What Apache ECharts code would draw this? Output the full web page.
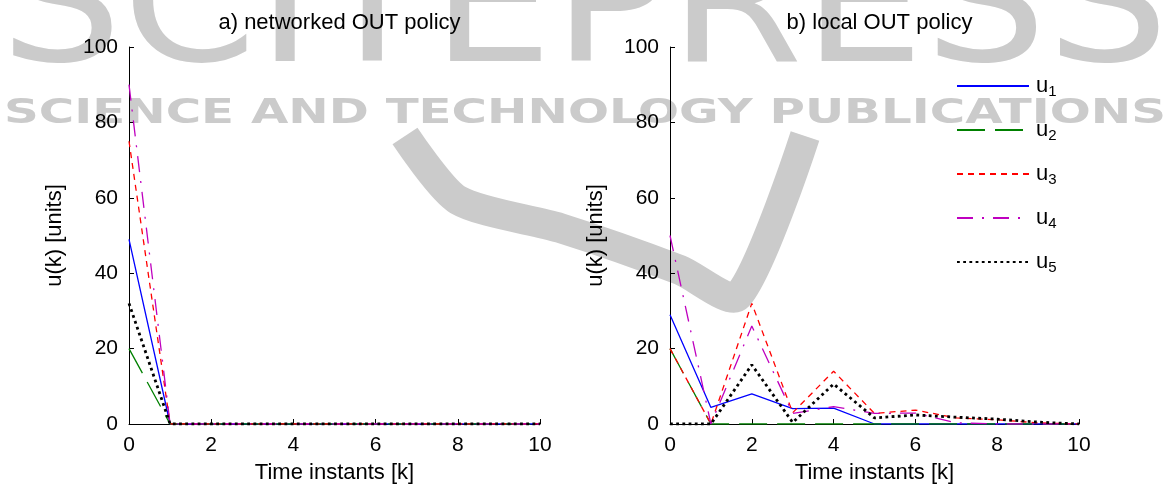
<!DOCTYPE html>
<html><head><meta charset="utf-8">
<script src="https://cdn.jsdelivr.net/npm/echarts@6/dist/echarts.min.js"></script>
<style>html,body{margin:0;padding:0;background:#fff}#c{width:1169px;height:492px}</style>
</head><body><div id="c"></div><script>
// ---- data ----
const kValues = [0,1,2,3,4,5,6,7,8,9,10];
const seriesNames = ['u1','u2','u3','u4','u5'];
const xTicks = [0,2,4,6,8,10];
const yTicks = [0,20,40,60,80,100];
// a) networked OUT policy
const netU1 = [49,0,0,0,0,0,0,0,0,0,0];
const netU2 = [20,0,0,0,0,0,0,0,0,0,0];
const netU3 = [75,0,0,0,0,0,0,0,0,0,0];
const netU4 = [90,0,0,0,0,0,0,0,0,0,0];
const netU5 = [32,0,0,0,0,0,0,0,0,0,0];
// b) local OUT policy
const locU1 = [29,4.4,8,4.1,4.2,0,0,0,0,0,0];
const locU2 = [20,0,0,0,0,0,0,0,0,0,0];
const locU3 = [20,0,32,3,14,2.8,3.7,1.6,1.1,0.3,0];
const locU4 = [50,0,26,2.8,4.6,2.8,2.9,0.3,0,0,0];
const locU5 = [0,0,15.7,0.4,10.6,1.6,2.4,1.8,1.3,0.5,0];

const titles = ['a) networked OUT policy','b) local OUT policy'];
const xName = 'Time instants [k]';
const yName = 'u(k) [units]';

// ---- styles ----
const styles = [
  {color:'#0000ff', width:1.3, type:'solid'},
  {color:'#008000', width:1.3, type:[28,10]},
  {color:'#ff0000', width:1.3, type:[6,5]},
  {color:'#bf00bf', width:1.3, type:[16,9,2,9]},
  {color:'#000000', width:2.8, type:[2.8,3.4]}
];
const FONT = '"Liberation Sans", Arial, sans-serif';

const grids = [
  {left:129, top:47, width:411, height:377},
  {left:670, top:47, width:409, height:377}
];

function mkX(i){
  return {gridIndex:i, type:'value', min:0, max:10, interval:2,
    axisLine:{show:true, onZero:false, lineStyle:{color:'#000', width:1}},
    axisTick:{show:true, inside:true, length:5, lineStyle:{color:'#000'}},
    axisLabel:{fontSize:21, color:'#000', margin:11, fontFamily:FONT},
    splitLine:{show:false},
    name:xName, nameLocation:'middle', nameGap:38,
    nameTextStyle:{fontSize:22, color:'#000', fontFamily:FONT}};
}
function mkY(i){
  return {gridIndex:i, type:'value', min:0, max:100, interval:20,
    axisLine:{show:true, onZero:false, lineStyle:{color:'#000', width:1}},
    axisTick:{show:true, inside:true, length:5, lineStyle:{color:'#000'}},
    axisLabel:{fontSize:21, color:'#000', margin:11, fontFamily:FONT},
    splitLine:{show:false},
    name:yName, nameLocation:'middle', nameGap:63,
    nameTextStyle:{fontSize:22, color:'#000', fontFamily:FONT}};
}

const netData = [netU1,netU2,netU3,netU4,netU5];
const locData = [locU1,locU2,locU3,locU4,locU5];
const series = [];
[netData, locData].forEach((set, gi) => {
  set.forEach((arr, si) => {
    series.push({
      name: seriesNames[si], type:'line', xAxisIndex:gi, yAxisIndex:gi,
      data: kValues.map((k,j)=>[k, arr[j]]),
      symbol:'none', showSymbol:false, animation:false,
      lineStyle:{color:styles[si].color, width:styles[si].width, type:styles[si].type},
      itemStyle:{color:styles[si].color},
      z: 3
    });
  });
});

// watermark text fitted to width
function fitScale(text, font, target){
  const c = document.createElement('canvas').getContext('2d');
  c.font = font;
  return target / c.measureText(text).width;
}
const wm1 = 'SCITEPRESS', wm2 = 'SCIENCE AND TECHNOLOGY PUBLICATIONS';
const wm1Font = 'normal 170px "DejaVu Sans"';
const wm2Font = 'bold 34px "DejaVu Sans"';
const s1 = fitScale(wm1, wm1Font, 1169);
const s2 = fitScale(wm2, wm2Font, 1162);
const WM = '#cbcbcb';

const chart = echarts.init(document.getElementById('c'), null, {renderer:'canvas'});
chart.setOption({
  animation:false,
  backgroundColor:'#fff',
  title: titles.map((t,i)=>({text:t, left: grids[i].left + grids[i].width/2, textAlign:'center', top:7,
    textStyle:{fontSize:22, fontWeight:'normal', color:'#000', fontFamily:FONT}})),
  grid: grids,
  xAxis:[mkX(0), mkX(1)],
  yAxis:[mkY(0), mkY(1)],
  legend:{
    data: seriesNames, orient:'vertical', left:951, top:70,
    itemWidth:72, itemHeight:14, itemGap:19.5,
    itemStyle:{color:'rgba(0,0,0,0)', borderWidth:0, opacity:0},
    textStyle:{fontSize:22, color:'#000', fontFamily:FONT, padding:[0,0,0,2],
      rich:{s:{fontSize:15, fontFamily:FONT, color:'#000', padding:[12,0,0,0]}}},
    formatter: n => 'u{s|' + n.slice(1) + '}'
  },
  graphic:[
    {type:'text', z:-10, silent:true, x:0, y:-68, scaleX:s1,
      style:{text:wm1, font:wm1Font, fill:WM, align:'left', verticalAlign:'top'}},
    {type:'text', z:-10, silent:true, x:4, y:114, scaleX:s2,
      style:{text:wm2, font:wm2Font, fill:WM, align:'left', verticalAlign:'middle'}},
    {type:'polyline', z:-10, silent:true,
      shape:{points:[[405,136],[458,200],[560,228],[680,270],[738,296],[805,136]], smooth:0.25},
      style:{stroke:WM, lineWidth:30, fill:null, lineJoin:'round'}}
  ],
  series
});
</script></body></html>
